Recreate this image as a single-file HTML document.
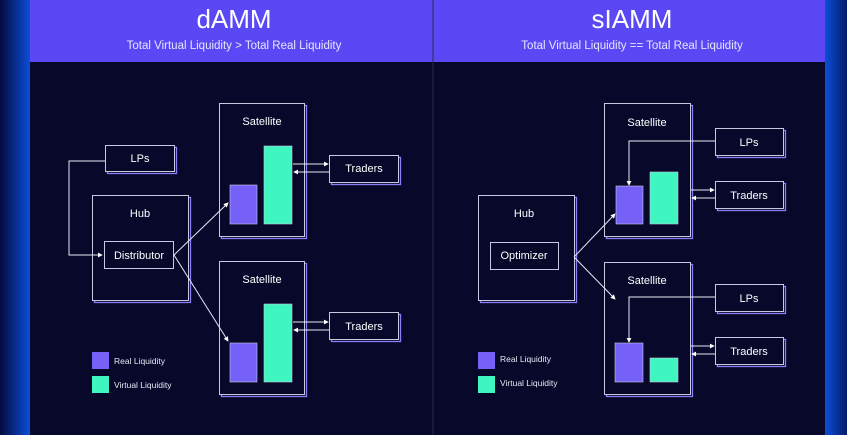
<!DOCTYPE html>
<html><head><meta charset="utf-8"><style>
html,body{margin:0;padding:0;background:#07082a;}
svg{display:block;font-family:"Liberation Sans",sans-serif;}
</style></head><body>
<svg width="847" height="435" viewBox="0 0 847 435" xmlns="http://www.w3.org/2000/svg">
<defs>
<linearGradient id="lg" x1="0" x2="1"><stop offset="0" stop-color="#050a40"/><stop offset="1" stop-color="#0a4fd8"/></linearGradient>
<linearGradient id="rg" x1="0" x2="1"><stop offset="0" stop-color="#0a4fd8"/><stop offset="1" stop-color="#061a6a"/></linearGradient>
<marker id="a" viewBox="0 0 6 6" refX="5" refY="3" markerWidth="5" markerHeight="5" orient="auto"><path d="M0,0L6,3L0,6z" fill="#fff"/></marker>
</defs>
<rect width="847" height="435" fill="#07082a"/>
<rect x="0" y="0" width="30" height="435" fill="url(#lg)"/>
<rect x="825" y="0" width="22" height="435" fill="url(#rg)"/>
<rect x="30" y="0" width="795" height="62" fill="#5a48f5"/>
<line x1="433" y1="0" x2="433" y2="435" stroke="#2a2a50" stroke-width="1"/>
<g fill="#fff" text-anchor="middle">
<text x="234" y="28" font-size="26">dAMM</text>
<text x="234" y="49" font-size="11.5" fill="#e8e6ff">Total Virtual Liquidity &gt; Total Real Liquidity</text>
<text x="632" y="28" font-size="26">sIAMM</text>
<text x="632" y="49" font-size="11.5" fill="#e8e6ff">Total Virtual Liquidity == Total Real Liquidity</text>
</g>
<g fill="#07082a" stroke-width="1">
<g stroke="#8b7ef8" stroke-width="1.3">
<rect x="221.5" y="105.5" width="85" height="133"/><rect x="221.5" y="263.5" width="85" height="133"/>
<rect x="107.5" y="147.5" width="69" height="26"/><rect x="94.5" y="197.5" width="96" height="105"/>
<rect x="106.5" y="243.5" width="69" height="27"/><rect x="331.5" y="157.5" width="69" height="27"/><rect x="331.5" y="314.5" width="69" height="27"/>
<rect x="606.5" y="105.5" width="86" height="133"/><rect x="606.5" y="264.5" width="86" height="132"/>
<rect x="717.5" y="130.5" width="68" height="27"/><rect x="717.5" y="183.5" width="68" height="27"/>
<rect x="717.5" y="286.5" width="68" height="27"/><rect x="717.5" y="339.5" width="68" height="27"/>
<rect x="480.5" y="197.5" width="96" height="105"/><rect x="492.5" y="244.5" width="68" height="27"/>
</g>
<g stroke="#c8c8e0">
<rect x="219.5" y="103.5" width="85" height="133"/><rect x="219.5" y="261.5" width="85" height="133"/>
<rect x="105.5" y="145.5" width="69" height="26"/><rect x="92.5" y="195.5" width="96" height="105"/>
<rect x="104.5" y="241.5" width="69" height="27"/><rect x="329.5" y="155.5" width="69" height="27"/><rect x="329.5" y="312.5" width="69" height="27"/>
<rect x="604.5" y="103.5" width="86" height="133"/><rect x="604.5" y="262.5" width="86" height="132"/>
<rect x="715.5" y="128.5" width="68" height="27"/><rect x="715.5" y="181.5" width="68" height="27"/>
<rect x="715.5" y="284.5" width="68" height="27"/><rect x="715.5" y="337.5" width="68" height="27"/>
<rect x="478.5" y="195.5" width="96" height="105"/><rect x="490.5" y="242.5" width="68" height="27"/>
</g>
</g>
<g stroke="#c8c8e0" stroke-width="0.6">
<rect x="230" y="185" width="27" height="39" fill="#7561f8"/><rect x="264" y="146" width="28" height="78" fill="#3ff5c0"/>
<rect x="230" y="343" width="27" height="39" fill="#7561f8"/><rect x="264" y="304" width="28" height="78" fill="#3ff5c0"/>
<rect x="616" y="186" width="27" height="38" fill="#7561f8"/><rect x="650" y="172" width="28" height="52" fill="#3ff5c0"/>
<rect x="615" y="343" width="28" height="39" fill="#7561f8"/><rect x="650" y="358" width="28" height="24" fill="#3ff5c0"/>
</g>
<rect x="92" y="352" width="17" height="17" fill="#7561f8"/><rect x="92" y="376" width="17" height="17" fill="#3ff5c0"/>
<rect x="478" y="352" width="17" height="17" fill="#7561f8"/><rect x="478" y="376" width="17" height="17" fill="#3ff5c0"/>
<g fill="#e8e8f4" font-size="8.5">
<text x="114" y="364">Real Liquidity</text><text x="114" y="388">Virtual Liquidity</text>
<text x="500" y="362">Real Liquidity</text><text x="500" y="386">Virtual Liquidity</text>
</g>
<g fill="#fff" font-size="11" text-anchor="middle">
<text x="262" y="125">Satellite</text><text x="262" y="283">Satellite</text>
<text x="140" y="162">LPs</text><text x="140" y="217">Hub</text><text x="139" y="259">Distributor</text>
<text x="364" y="172">Traders</text><text x="364" y="330">Traders</text>
<text x="647" y="126">Satellite</text><text x="647" y="284">Satellite</text>
<text x="749" y="146">LPs</text><text x="749" y="199">Traders</text><text x="749" y="302">LPs</text><text x="749" y="355">Traders</text>
<text x="524" y="217">Hub</text><text x="524" y="259">Optimizer</text>
</g>
<g stroke="#e8e8f4" stroke-width="1" fill="none">
<polyline points="105,161 69,161 69,255 102,255" marker-end="url(#a)"/>
<line x1="174" y1="255" x2="228" y2="203" marker-end="url(#a)"/>
<line x1="174" y1="255" x2="228" y2="341" marker-end="url(#a)"/>
<line x1="293" y1="164" x2="328" y2="164" marker-end="url(#a)"/>
<line x1="329" y1="172" x2="294" y2="172" marker-end="url(#a)"/>
<line x1="293" y1="322" x2="328" y2="322" marker-end="url(#a)"/>
<line x1="329" y1="330" x2="294" y2="330" marker-end="url(#a)"/>
<polyline points="715,141 629,141 629,185" marker-end="url(#a)"/>
<polyline points="715,297 629,297 629,342" marker-end="url(#a)"/>
<line x1="574" y1="257" x2="615" y2="214" marker-end="url(#a)"/>
<line x1="574" y1="257" x2="615" y2="299" marker-end="url(#a)"/>
<line x1="691" y1="190" x2="714" y2="190" marker-end="url(#a)"/>
<line x1="715" y1="198" x2="692" y2="198" marker-end="url(#a)"/>
<line x1="691" y1="346" x2="714" y2="346" marker-end="url(#a)"/>
<line x1="715" y1="354" x2="692" y2="354" marker-end="url(#a)"/>
</g>
</svg>
</body></html>
